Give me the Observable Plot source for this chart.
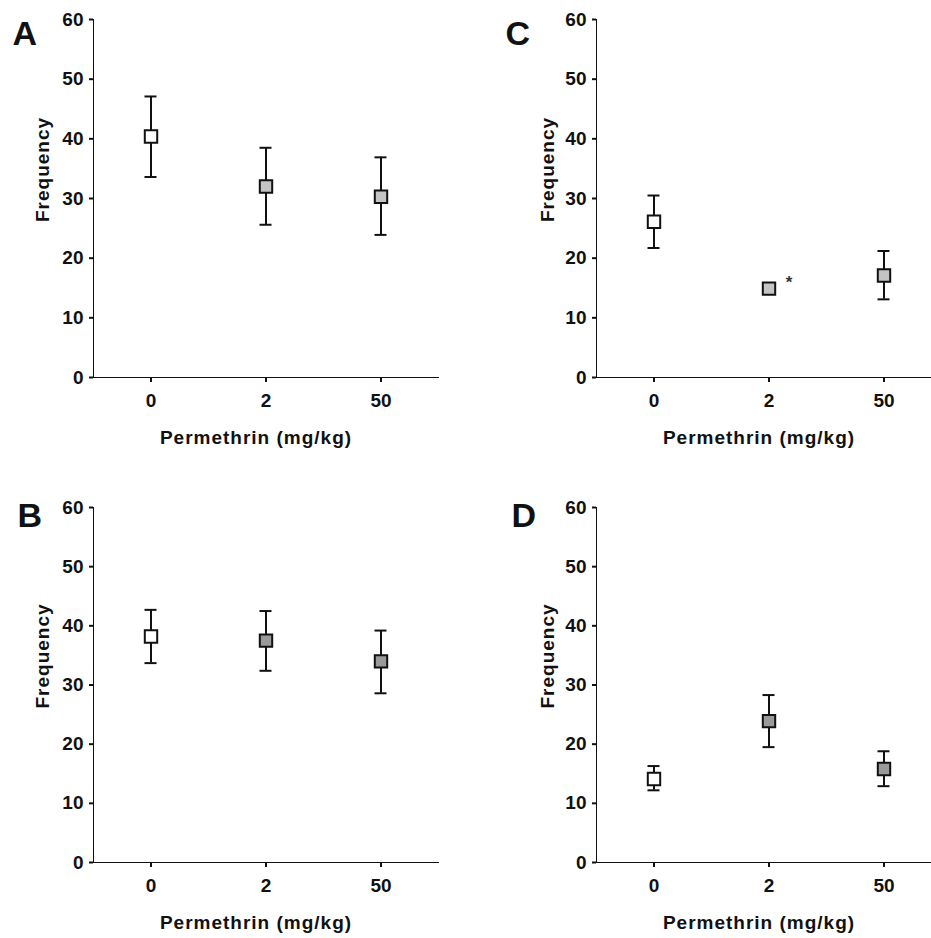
<!DOCTYPE html>
<html>
<head>
<meta charset="utf-8">
<script src="https://cdn.jsdelivr.net/npm/d3@7"></script>
<script src="https://cdn.jsdelivr.net/npm/@observablehq/plot@0.6"></script>
<style>
  html, body { margin: 0; padding: 0; background: #fff; overflow: hidden; }
  #wrap { position: relative; width: 931px; height: 938px; overflow: hidden; background: #fff; }
  .panel { position: absolute; }
  .panel svg { overflow: visible; max-width: none !important; }
</style>
</head>
<body>
<div id="wrap"></div>
<script>
// ---- data ----
const doses = ["0", "2", "50"];
const yTicks = [0, 10, 20, 30, 40, 50, 60];
const xTitle = "Permethrin (mg/kg)";
const yTitle = "Frequency";

const meanA = [40.4, 32.0, 30.3];
const lowA  = [33.6, 25.6, 23.9];
const highA = [47.1, 38.5, 36.9];

const meanB = [38.2, 37.5, 34.0];
const lowB  = [33.7, 32.4, 28.6];
const highB = [42.7, 42.5, 39.2];

const meanC = [26.1, 14.9, 17.1];
const lowC  = [21.7, 14.4, 13.1];
const highC = [30.5, 15.4, 21.2];
const sigC  = ["", "*", ""];

const meanD = [14.1, 23.9, 15.8];
const lowD  = [12.2, 19.5, 12.9];
const highD = [16.3, 28.3, 18.8];

const FONT = "'Liberation Sans', Arial, Helvetica, sans-serif";
const INK = "#111";

function panel(letter, mean, low, high, sig, cfg) {
  const data = doses.map((d, i) => ({dose: d, mean: mean[i], low: low[i], high: high[i], sig: sig ? sig[i] : ""}));
  const bw = (cfg.width - cfg.marginLeft - cfg.marginRight) / doses.length;
  const capInset = (bw - 12) / 2;
  const chart = Plot.plot({
    width: cfg.width,
    height: 469,
    marginLeft: cfg.marginLeft,
    marginRight: cfg.marginRight,
    marginTop: cfg.marginTop,
    marginBottom: cfg.marginBottom,
    style: {fontFamily: FONT, fontWeight: "bold", fontSize: "19px", color: INK, background: "transparent", overflow: "visible"},
    x: {type: "band", domain: doses, padding: 0, tickSize: 5, tickPadding: 11, label: null, line: true},
    y: {domain: [0, 60], ticks: yTicks, tickSize: 4, tickPadding: 6, label: null, line: true},
    color: {type: "ordinal", domain: doses, range: ["#ffffff", cfg.shade, cfg.shade]},
    marks: [
      Plot.ruleX(data, {x: "dose", y1: "low", y2: "high", stroke: INK, strokeWidth: 2}),
      Plot.tickY(data, {x: "dose", y: "low", insetLeft: capInset, insetRight: capInset, stroke: INK, strokeWidth: 2}),
      Plot.tickY(data, {x: "dose", y: "high", insetLeft: capInset, insetRight: capInset, stroke: INK, strokeWidth: 2}),
      Plot.dot(data, {x: "dose", y: "mean", symbol: "square", r: 7, fill: "dose", stroke: INK, strokeWidth: 2}),
      Plot.text(data, {x: "dose", y: "mean", text: "sig", dx: 20, dy: -6, fontSize: 17, fill: "#333"}),
      Plot.text([xTitle], {frameAnchor: "bottom", textAnchor: "middle", dy: 66, dx: -10, fontSize: 19, fontWeight: "bold", fill: INK}),
      Plot.text([yTitle], {frameAnchor: "left", textAnchor: "middle", rotate: -90, dx: cfg.ylabDx, dy: -29, fontSize: 19, fontWeight: "bold", fill: INK}),
      Plot.text([letter], {frameAnchor: "top-left", textAnchor: "start", lineAnchor: "top", dx: cfg.letterDx, dy: cfg.letterDy, fontSize: 34, fontWeight: "bold", fill: INK})
    ]
  });
  const sel = d3.select(chart);
  sel.selectAll("text").filter(function() {
    const t = this.textContent; return t === xTitle || t === yTitle;
  }).style("letter-spacing", "1px");
  sel.selectAll("g[aria-label*='tick label']").attr("font-size", 19).attr("font-weight", "bold").attr("font-family", FONT)
    .selectAll("text").attr("font-size", null).style("font-size", "19px");
  sel.selectAll("g[aria-label*='axis']").filter(function() {
    return !/label/.test(this.getAttribute("aria-label"));
  }).attr("stroke-width", 2).attr("stroke", INK);
  const div = document.createElement("div");
  div.className = "panel";
  div.style.left = cfg.left + "px";
  div.style.top = cfg.top + "px";
  div.style.width = cfg.width + "px";
  div.style.height = "469px";
  div.appendChild(chart);
  document.getElementById("wrap").appendChild(div);
}

panel("A", meanA, lowA, highA, null, {left: 0, top: 0, width: 465, marginLeft: 93, marginRight: 27, marginTop: 19, marginBottom: 92, shade: "#c4c4c4", ylabDx: -51, letterDx: -81, letterDy: 1});
panel("C", meanC, lowC, highC, sigC, {left: 466, top: 0, width: 475, marginLeft: 130, marginRight: 0, marginTop: 19, marginBottom: 92, shade: "#c4c4c4", ylabDx: -49, letterDx: -91, letterDy: 1});
panel("B", meanB, lowB, highB, null, {left: 0, top: 469, width: 465, marginLeft: 93, marginRight: 27, marginTop: 38, marginBottom: 76, shade: "#9a9a9a", ylabDx: -51, letterDx: -76, letterDy: -5});
panel("D", meanD, lowD, highD, null, {left: 466, top: 469, width: 475, marginLeft: 130, marginRight: 0, marginTop: 38, marginBottom: 76, shade: "#9a9a9a", ylabDx: -49, letterDx: -85, letterDy: -5});
</script>
</body>
</html>
